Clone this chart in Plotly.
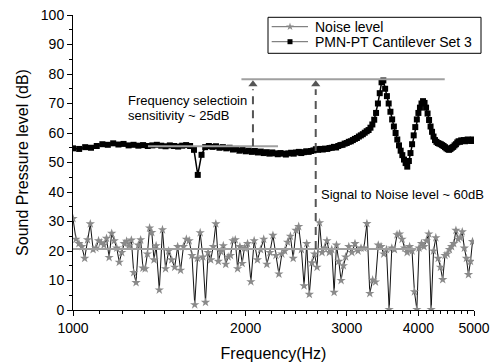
import math
import plotly.graph_objects as go

# ---------------- data ----------------
signal_freq = [
    1000, 1025, 1050, 1075, 1100, 1125, 1150, 1175,
    1200, 1225, 1250, 1275, 1300, 1325, 1350, 1375,
    1400, 1425, 1450, 1475, 1500, 1525, 1550, 1575,
    1600, 1625, 1650, 1675, 1700, 1725, 1750, 1775,
    1800, 1825, 1850, 1875, 1900, 1925, 1950, 1975,
    2000, 2025, 2050, 2075, 2100, 2125, 2150, 2175,
    2200, 2225, 2250, 2275, 2300, 2325, 2350, 2375,
    2400, 2425, 2450, 2475, 2500, 2525, 2550, 2575,
    2600, 2625, 2650, 2675, 2700, 2725, 2750, 2775,
    2800, 2825, 2850, 2875, 2900, 2925, 2950, 2975,
    3000, 3025, 3050, 3075, 3100, 3125, 3150, 3175,
    3200, 3225, 3250, 3275, 3300, 3325, 3350, 3375,
    3400, 3425, 3450, 3475, 3500, 3525, 3550, 3575,
    3600, 3625, 3650, 3675, 3700, 3725, 3750, 3775,
    3800, 3825, 3850, 3875, 3900, 3925, 3950, 3975,
    4000, 4025, 4050, 4075, 4100, 4125, 4150, 4175,
    4200, 4225, 4250, 4275, 4300, 4325, 4350, 4375,
    4400, 4425, 4450, 4475, 4500, 4525, 4550, 4575,
    4600, 4625, 4650, 4675, 4700, 4725, 4750, 4775,
    4800, 4825, 4850, 4875, 4900, 4925, 4950, 4975,
    5000,
]
signal_db = [
    54.8, 54.6, 55.2, 55.0, 55.6, 56.2, 56.0, 56.5,
    56.1, 56.3, 55.8, 56.0, 55.7, 55.9, 55.6, 55.8,
    56.0, 55.7, 55.5, 55.8, 55.6, 55.4, 55.7, 55.9,
    55.6, 54.3, 45.8, 52.6, 55.2, 55.6, 55.3, 55.5,
    55.0, 55.2, 54.8, 55.0, 54.4, 54.6, 54.0, 54.3,
    53.8, 54.0, 53.6, 53.9, 53.4, 53.7, 53.2, 53.5,
    53.0, 53.4, 53.1, 52.8, 53.2, 53.0, 52.7, 53.1,
    53.3, 53.0, 53.4, 53.6, 53.2, 53.5, 53.8, 53.6,
    53.9, 54.1, 54.5, 54.3, 54.6, 54.4, 54.7, 54.6,
    54.9, 55.0, 55.3, 55.1, 55.6, 55.9, 56.0, 56.4,
    56.6, 57.0, 57.2, 57.6, 58.0, 58.3, 58.8, 59.2,
    59.6, 60.1, 60.6, 61.0, 61.8, 62.9, 64.5, 66.8,
    70.0, 73.5, 77.2, 77.8, 75.0, 72.5, 70.0, 67.2,
    64.6, 62.2, 60.0, 57.8, 55.8, 54.0, 52.5, 51.0,
    49.8, 48.6, 50.5, 53.2, 56.2, 59.2, 62.0, 64.6,
    66.8, 68.6, 70.0, 70.8, 70.2, 68.6, 66.6, 64.4,
    62.2, 60.4, 58.8, 57.6, 57.0, 56.6, 56.4, 56.2,
    55.9, 55.6, 55.2, 54.8, 54.5, 54.3, 54.6, 55.0,
    55.3, 55.8, 56.2, 56.8, 57.2, 57.0, 57.5, 57.3,
    57.6, 57.2, 57.5, 57.8, 57.4, 57.6, 57.3, 57.8,
    57.5,
]

noise_freq = [
    1000, 1012, 1024, 1036, 1048, 1060, 1072, 1084, 1096, 1108,
    1120, 1132, 1144, 1156, 1168, 1180, 1192, 1204, 1216, 1228,
    1240, 1252, 1264, 1276, 1288, 1300, 1312, 1324, 1336, 1348,
    1360, 1372, 1384, 1396,
    1414, 1432, 1450, 1468, 1486, 1504, 1522, 1540, 1558, 1576,
    1594, 1612, 1630, 1648, 1666, 1684, 1702, 1720, 1738, 1756,
    1774, 1792, 1810, 1828, 1846, 1864, 1882, 1900, 1918, 1936,
    1954, 1972, 1990,
    2015, 2042, 2069, 2096, 2123, 2150, 2177, 2204, 2231, 2258,
    2285, 2312, 2339, 2366, 2393, 2420, 2447, 2474, 2501, 2528,
    2555, 2582, 2609, 2636, 2663, 2690, 2717, 2744, 2771, 2798,
    2825, 2852, 2879, 2906, 2933, 2960, 2987,
    3025, 3063, 3101, 3139, 3177, 3215, 3253, 3291, 3329, 3367,
    3405, 3443, 3481, 3519, 3557, 3595, 3633, 3671, 3709, 3747,
    3785, 3823, 3861, 3899, 3937, 3975,
    4010, 4050, 4090, 4130, 4170, 4210, 4250, 4290, 4330, 4370,
    4410, 4450, 4490, 4530, 4570, 4610, 4650, 4690, 4730, 4770,
    4810, 4850, 4890, 4930, 4970,
]
noise_db = [
    31.0, 24.0, 22.5, 21.5, 17.5, 23.8, 29.2, 20.5, 21.0, 23.5,
    22.8, 22.0, 24.3, 17.8, 26.0, 23.5, 21.0, 16.2, 19.5, 22.5,
    23.3, 21.8, 23.7, 12.7, 9.3, 22.0, 23.8, 14.2, 14.0, 19.0,
    27.8, 26.3, 17.0, 21.8,
    6.8, 27.2, 14.0, 20.0, 17.0, 14.5, 21.5, 13.5, 21.5, 24.0,
    23.5, 18.5, 1.8, 17.5, 26.2, 18.0, 2.6, 19.5, 17.0, 21.5,
    29.2, 16.5, 19.8, 21.8, 15.5, 18.0, 18.5, 23.5, 23.8, 14.0,
    21.5, 15.8, 21.0,
    22.5, 9.6, 23.5, 17.0, 20.5, 24.0, 15.5, 19.5, 25.3, 18.5,
    12.2, 19.0, 20.0, 23.0, 25.0, 17.5, 27.0, 28.3, 20.5, 8.2,
    22.5, 5.3, 16.0, 19.0, 14.5, 29.6, 19.5, 21.0, 23.5, 19.5,
    20.5, 6.0, 22.0, 16.5, 10.0, 15.0, 18.0,
    21.5, 19.5, 22.5, 20.0, 21.0, 21.0, 29.3, 5.6, 10.2, 9.5,
    22.0, 21.5, 19.0, 20.5, 0.2, 21.0, 20.5, 25.5, 25.8, 24.0,
    21.0, 19.5, 21.5, 20.0, 6.2, 0.2,
    21.0, 22.5, 21.5, 23.5, 25.8, 0.2, 20.0, 24.5, 17.5, 14.5,
    10.3, 18.5, 19.0, 20.5, 21.5, 22.5, 27.0, 24.0, 24.5, 26.5,
    21.0, 17.5, 12.0, 16.5, 23.2,
]

series_names = ["Noise level", "PMN-PT Cantilever Set 3"]

x_tick_vals = [1000, 2000, 3000, 4000, 5000]
x_minor_vals = [1111, 1222, 1333, 1444, 1556, 1667, 1778, 1889,
                2111, 2222, 2333, 2444, 2556, 2667, 2778, 2889,
                3125, 3250, 3375, 3500, 3625, 3750, 3875,
                4125, 4250, 4375, 4500, 4625, 4750, 4875]
y_tick_vals = [0, 10, 20, 30, 40, 50, 60, 70, 80, 90, 100]

# annotation guide levels (dB) and their frequency spans (Hz)
peak_level = 78.2
peak_span = [1966, 4446]
select_level = 55.5
select_span = [1351, 2277]
noise_mean_level = 20.7
noise_span = [1000, 3965]
arrow1_freq = 2059
arrow2_freq = 2649

FONT = "Arial, Liberation Sans, sans-serif"
GUIDE = "#a0a0a0"
ARROW = "#555555"
NOISE_MARK = "#8a8a8a"

W, H = 491, 363
ML, MR, MT, MB = 73, 17, 15, 53
PW, PH = W - ML - MR, H - MT - MB


def px_x(p):
    return (p - ML) / PW


def px_y(p):
    return (H - MB - p) / PH


fig = go.Figure()

fig.add_trace(go.Scatter(
    x=noise_freq, y=noise_db, mode="lines+markers", name=series_names[0],
    showlegend=False,
    line=dict(color="#111111", width=1),
    marker=dict(symbol="star", size=7, color=NOISE_MARK, line=dict(width=0)),
))
fig.add_trace(go.Scatter(
    x=signal_freq, y=signal_db, mode="lines+markers", name=series_names[1],
    showlegend=False,
    line=dict(color="#000000", width=1.5),
    marker=dict(symbol="square", size=6, color="#000000", line=dict(width=0)),
))

# horizontal guide lines
for span, lvl in [(peak_span, peak_level), (select_span, select_level), (noise_span, noise_mean_level)]:
    fig.add_trace(go.Scatter(x=span, y=[lvl, lvl], mode="lines", showlegend=False,
                             hoverinfo="skip", line=dict(color=GUIDE, width=2)))

# dashed arrows
head_off = 1.7
for f, lo in [(arrow1_freq, select_level), (arrow2_freq, noise_mean_level)]:
    fig.add_trace(go.Scatter(x=[f, f], y=[lo, peak_level - head_off * 2], mode="lines",
                             showlegend=False, hoverinfo="skip",
                             line=dict(color=ARROW, width=2, dash="8px,6px")))
    fig.add_trace(go.Scatter(x=[f], y=[peak_level - head_off], mode="markers",
                             showlegend=False, hoverinfo="skip",
                             marker=dict(symbol="triangle-up", size=8, color=ARROW,
                                         line=dict(width=0))))

annots = [
    dict(text="Frequency selectioin", x=math.log10(1236), y=71.1),
    dict(text="sensitivity ~ 25dB", x=math.log10(1236), y=65.8),
    dict(text="Signal to Noise level ~ 60dB", x=math.log10(2685), y=39.3),
]
for a in annots:
    fig.add_annotation(text=a["text"], x=a["x"], y=a["y"], xref="x", yref="y",
                       xanchor="left", yanchor="middle", showarrow=False,
                       font=dict(family=FONT, size=13, color="#000000"))

# ---------------- hand-built legend (compact, like the original) ----------------
leg_x0, leg_x1 = px_x(268), px_x(481)
leg_y0, leg_y1 = px_y(53.3), px_y(17.3)
fig.add_shape(type="rect", xref="paper", yref="paper", x0=leg_x0, x1=leg_x1,
              y0=leg_y0, y1=leg_y1, line=dict(color="#000000", width=1),
              fillcolor="rgba(0,0,0,0)", layer="above")
row_y = [px_y(26.7), px_y(41.7)]
sym_x0, sym_x1, sym_xc = px_x(271.7), px_x(308), px_x(290)
leg_marks = [dict(symbol="star", size=6, color=NOISE_MARK),
             dict(symbol="square", size=5, color="#000000")]
for ry, name, mk in zip(row_y, series_names, leg_marks):
    fig.add_trace(go.Scatter(x=[sym_x0, sym_x1], y=[ry, ry], xaxis="x2", yaxis="y2",
                             mode="lines", showlegend=False, hoverinfo="skip",
                             line=dict(color="#666666", width=1)))
    fig.add_trace(go.Scatter(x=[sym_xc], y=[ry], xaxis="x2", yaxis="y2", mode="markers",
                             showlegend=False, hoverinfo="skip", cliponaxis=False,
                             marker=dict(line=dict(width=0), **mk)))
    fig.add_annotation(text=name, xref="paper", yref="paper", x=px_x(312.7), y=ry,
                       xanchor="left", yanchor="middle", showarrow=False,
                       font=dict(family=FONT, size=14, color="#000000"))

fig.update_layout(
    width=W, height=H,
    margin=dict(l=ML, r=MR, t=MT, b=MB, autoexpand=False),
    paper_bgcolor="white", plot_bgcolor="white",
    font=dict(family=FONT, size=14, color="#000000"),
    showlegend=False,
    xaxis=dict(
        type="log", range=[3, math.log10(5000)],
        tickvals=x_tick_vals, ticktext=[str(v) for v in x_tick_vals],
        showline=True, linecolor="#000000", linewidth=1, mirror=False,
        ticks="outside", ticklen=5, tickwidth=1, tickcolor="#000000",
        minor=dict(tickvals=x_minor_vals, ticks="outside", ticklen=3,
                   tickwidth=1, tickcolor="#000000", showgrid=False),
        showgrid=False, zeroline=False,
        tickfont=dict(family=FONT, size=14),
        title=dict(text="Frequency(Hz)", font=dict(family=FONT, size=16), standoff=13),
    ),
    yaxis=dict(
        range=[0, 100], tickvals=y_tick_vals,
        showline=True, linecolor="#000000", linewidth=1, mirror=False,
        ticks="outside", ticklen=5, tickwidth=1, tickcolor="#000000",
        minor=dict(dtick=5, ticks="outside", ticklen=3, tickwidth=1,
                   tickcolor="#000000", showgrid=False),
        showgrid=False, zeroline=False,
        tickfont=dict(family=FONT, size=14),
        title=dict(text="Sound Pressure level (dB)", font=dict(family=FONT, size=16), standoff=8),
    ),
    xaxis2=dict(overlaying="x", range=[0, 1], visible=False, fixedrange=True),
    yaxis2=dict(overlaying="y", range=[0, 1], visible=False, fixedrange=True),
)

fig.write_html("out.html")
